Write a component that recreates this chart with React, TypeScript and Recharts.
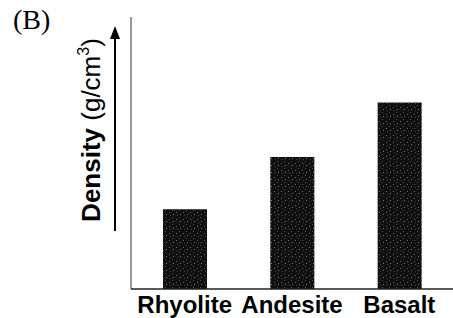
import { Bar, BarChart, XAxis, YAxis, Customized } from "recharts";

const rocks = ["Rhyolite", "Andesite", "Basalt"];
const density = [2.41, 2.68, 2.96];

const data = rocks.map((rock, i) => ({ rock, density: density[i] }));

const font = "'Liberation Sans', Arial, Helvetica, sans-serif";

function RockTick({ x, y, payload }: any) {
  return (
    <text
      x={x}
      y={y + 24}
      textAnchor="middle"
      fontFamily={font}
      fontWeight="bold"
      fontSize={24}
      fill="#000"
    >
      {payload.value}
    </text>
  );
}

// axis title with the arrow beside it, placed against the left margin
// (also carries the speckle pattern used by the bars)
function DensityLabel() {
  const ax = 131;
  const top = 17;
  const cy = top + 113;
  const tx = ax - 31;
  const arrowX = ax - 16;
  return (
    <g>
      <defs>
        <pattern id="speckle" width="7" height="7" patternUnits="userSpaceOnUse">
          <rect width="7" height="7" fill="#101010" />
          <rect x="1" y="2" width="1" height="1" fill="#6a6a6a" />
          <rect x="4" y="0" width="1" height="1" fill="#505050" />
          <rect x="5" y="4" width="1" height="1" fill="#7a7a7a" />
          <rect x="2" y="5" width="1" height="1" fill="#454545" />
        </pattern>
      </defs>
      <text
        x={tx}
        y={cy}
        transform={`rotate(-90 ${tx} ${cy})`}
        textAnchor="middle"
        fontFamily={font}
        fontSize={26}
        fill="#000"
      >
        <tspan fontWeight="bold">Density</tspan>
        <tspan> (g/cm</tspan>
        <tspan fontSize={16} dy={-11}>3</tspan>
        <tspan dy={11}>)</tspan>
      </text>
      <line x1={arrowX} y1={top + 214} x2={arrowX} y2={top + 18} stroke="#000" strokeWidth={2} />
      <path
        d={`M ${arrowX} ${top + 9} L ${arrowX - 5} ${top + 22} L ${arrowX + 5} ${top + 22} Z`}
        fill="#000"
      />
    </g>
  );
}

function App() {
  return (
    <div style={{ position: "absolute", left: 0, top: 0, width: 453, height: 318, background: "#fff" }}>
      <div
        style={{
          position: "absolute",
          left: 13,
          top: 4,
          fontFamily: "'Liberation Serif', 'Times New Roman', serif",
          fontSize: 28,
          lineHeight: "32px",
          color: "#000",
        }}
      >
        (B)
      </div>
      <BarChart
        width={453}
        height={318}
        data={data}
        margin={{ top: 17, right: 0, left: 130, bottom: 0 }}
        barCategoryGap={0}
      >
        <Customized component={<DensityLabel />} />
        <XAxis
          dataKey="rock"
          height={29}
          tickLine={false}
          tickSize={0}
          tickMargin={0}
          axisLine={{ stroke: "#222", strokeWidth: 1.5 }}
          tick={<RockTick />}
          interval={0}
        />
        <YAxis
          width={1}
          domain={[2.0, 3.4]}
          tick={false}
          tickLine={false}
          axisLine={{ stroke: "#333", strokeWidth: 1 }}
        />
        <Bar dataKey="density" fill="url(#speckle)" barSize={44} isAnimationActive={false} />
      </BarChart>
    </div>
  );
}

export default App;
